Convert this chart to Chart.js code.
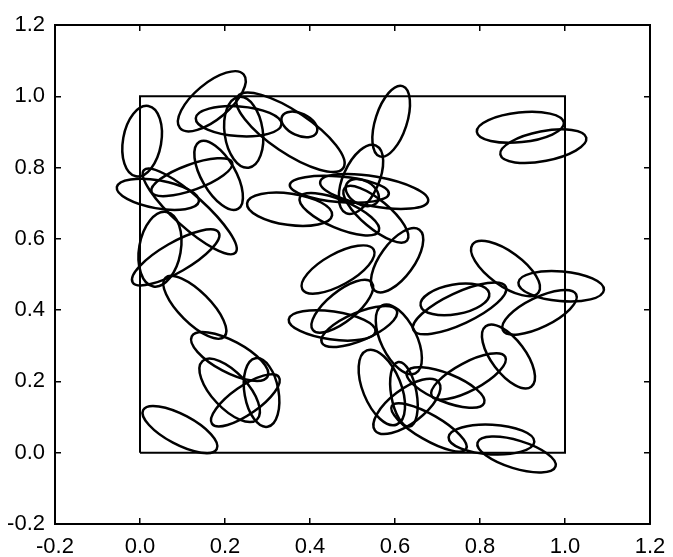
<!DOCTYPE html>
<html>
<head>
<meta charset="utf-8">
<script src="https://cdn.jsdelivr.net/npm/chart.js@4/dist/chart.umd.min.js"></script>
<style>
  html, body { margin: 0; padding: 0; background: #fff; }
  #wrap { width: 673px; height: 557px; }
</style>
</head>
<body>
<div id="wrap"><canvas id="chart" width="673" height="557"></canvas></div>
<script>
// ellipse centres
const centerX = [0.005, 0.169, 0.232, 0.244, 0.354, 0.375, 0.185, 0.122, 0.042, 0.117,
                 0.047, 0.084, 0.129, 0.211, 0.211, 0.248, 0.286, 0.094, 0.591, 0.520,
                 0.469, 0.551, 0.523, 0.555, 0.352, 0.469, 0.466, 0.605, 0.476, 0.452,
                 0.516, 0.609, 0.752, 0.741, 0.860, 0.991, 0.940, 0.867, 0.569, 0.628,
                 0.621, 0.719, 0.773, 0.680, 0.827, 0.886, 0.895, 0.949];
const centerY = [0.874, 0.986, 0.930, 0.899, 0.899, 0.921, 0.778, 0.773, 0.725, 0.677,
                 0.571, 0.548, 0.408, 0.270, 0.175, 0.147, 0.169, 0.065, 0.930, 0.767,
                 0.739, 0.733, 0.730, 0.669, 0.683, 0.669, 0.514, 0.540, 0.411, 0.357,
                 0.354, 0.318, 0.405, 0.430, 0.517, 0.467, 0.394, 0.270, 0.183, 0.130,
                 0.164, 0.183, 0.214, 0.071, 0.037, -0.005, 0.913, 0.860];
// semi-axes, in x-axis units
const semiMajor = [0.084, 0.098, 0.101, 0.084, 0.150, 0.045, 0.091, 0.101, 0.098, 0.145,
                   0.089, 0.117, 0.098, 0.101, 0.094, 0.096, 0.082, 0.098, 0.087, 0.087,
                   0.117, 0.129, 0.042, 0.096, 0.101, 0.101, 0.096, 0.089, 0.089, 0.103,
                   0.096, 0.089, 0.120, 0.082, 0.096, 0.101, 0.096, 0.089, 0.094, 0.094,
                   0.077, 0.098, 0.098, 0.101, 0.101, 0.096, 0.103, 0.103];
const semiMinor = [0.045, 0.042, 0.035, 0.045, 0.049, 0.026, 0.040, 0.030, 0.033, 0.037,
                   0.049, 0.035, 0.037, 0.037, 0.042, 0.033, 0.040, 0.035, 0.037, 0.042,
                   0.030, 0.035, 0.028, 0.033, 0.037, 0.033, 0.037, 0.040, 0.035, 0.033,
                   0.033, 0.042, 0.037, 0.035, 0.040, 0.035, 0.035, 0.040, 0.045, 0.040,
                   0.030, 0.033, 0.033, 0.030, 0.035, 0.033, 0.035, 0.035];
// tilt of the major axis, degrees counter-clockwise
const tiltDeg = [80, 40, -4, 98, -34, -25, -60, 20, -10, -42,
                 80, 30, -45, -28, -47, 35, 100, -28, 72, 66,
                 -5, -10, -30, -40, -8, -23, 29, 54, 39, -8,
                 23, 116, 25, 10, -36, -5, 26, -53, 112, 37,
                 100, -22, 28, -30, -3, -17, 6, 11];

// unit square outline
const squareX = [0, 1, 1, 0, 0];
const squareY = [0, 0, 1, 1, 0];

// axis ticks
const tickValues = [-0.2, 0, 0.2, 0.4, 0.6, 0.8, 1.0, 1.2];
const tickLabels = ["-0.2", "0.0", "0.2", "0.4", "0.6", "0.8", "1.0", "1.2"];

const labelFont = { family: "'Liberation Sans', Arial, sans-serif", size: 22 };

const ellipsePlugin = {
  id: 'ellipses',
  afterDatasetsDraw(chart) {
    const { ctx, scales: { x, y } } = chart;
    const unit = Math.abs(x.getPixelForValue(1) - x.getPixelForValue(0));
    ctx.save();
    ctx.strokeStyle = '#000';
    ctx.lineWidth = 2.5;
    centerX.forEach((cx, i) => {
      ctx.beginPath();
      ctx.ellipse(x.getPixelForValue(cx), y.getPixelForValue(centerY[i]),
        semiMajor[i] * unit, semiMinor[i] * unit,
        -tiltDeg[i] * Math.PI / 180, 0, Math.PI * 2);
      ctx.stroke();
    });
    ctx.restore();
  }
};

const setTicks = s => { s.ticks = tickValues.map(v => ({ value: v })); };

// fixed axis sizes, no extra room for overhanging labels
const fitH = h => s => { s.height = h; s.paddingLeft = 0; s.paddingRight = 0; };
const fitW = w => s => { s.width = w; s.paddingTop = 0; s.paddingBottom = 0; };

function axis(position, showLabels, fit) {
  return {
    type: 'linear',
    position: position,
    min: -0.2,
    max: 1.2,
    afterBuildTicks: setTicks,
    afterFit: fit,
    ticks: {
      display: showLabels,
      callback: (v, i) => tickLabels[i],
      color: '#000',
      font: labelFont,
      padding: 16,
      maxRotation: 0,
      autoSkip: false
    },
    grid: {
      drawOnChartArea: false,
      drawTicks: true,
      tickLength: -6,
      color: '#000',
      lineWidth: 1.5
    },
    border: { display: true, color: '#000', width: 2 }
  };
}

new Chart(document.getElementById('chart'), {
  type: 'scatter',
  data: {
    datasets: [{
      data: squareX.map((v, i) => ({ x: v, y: squareY[i] })),
      showLine: true,
      borderColor: '#000',
      borderWidth: 2,
      pointRadius: 0,
      tension: 0,
      fill: false
    }]
  },
  options: {
    responsive: false,
    animation: false,
    layout: { padding: { top: 25, right: 23, left: 0, bottom: 0 } },
    plugins: { legend: { display: false }, tooltip: { enabled: false } },
    scales: {
      x: axis('bottom', true, fitH(33)),
      x2: axis('top', false, fitH(0)),
      y: axis('left', true, fitW(55)),
      y2: axis('right', false, fitW(0))
    }
  },
  plugins: [ellipsePlugin]
});
</script>
</body>
</html>
